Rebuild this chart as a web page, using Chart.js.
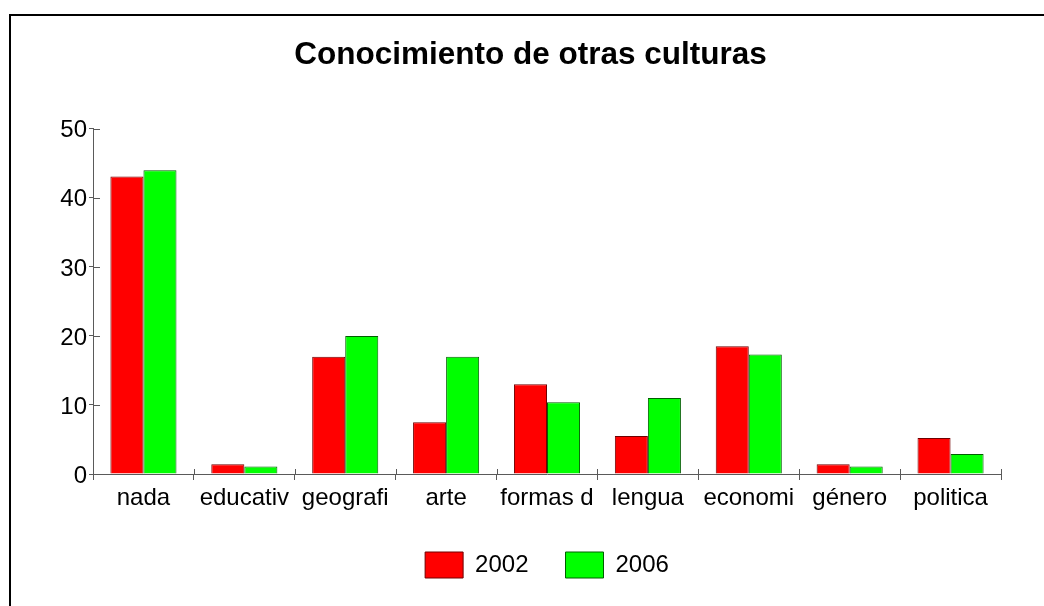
<!DOCTYPE html>
<html>
<head>
<meta charset="utf-8">
<script src="https://cdn.jsdelivr.net/npm/chart.js@4"></script>
<style>
  html, body { margin: 0; padding: 0; background: #ffffff; }
  canvas { display: block; }
</style>
</head>
<body>
<canvas id="c" width="1044" height="606"></canvas>
<script>
const categories = ['nada', 'educativ', 'geografi', 'arte', 'formas d', 'lengua', 'economi', 'género', 'politica'];
const values2002 = [43.1, 1.4, 17.0, 7.5, 13.0, 5.5, 18.5, 1.4, 5.2];
const values2006 = [44.0, 1.1, 20.0, 17.0, 10.4, 11.0, 17.3, 1.1, 2.9];
const seriesNames = ['2002', '2006'];
const yTicks = [0, 10, 20, 30, 40, 50];
const titleText = 'Conocimiento de otras culturas';

const FONT = "'Liberation Sans', Arial, Helvetica, sans-serif";
const AXIS_COLOR = '#5a5a5a';

const framePlugin = {
  id: 'frame',
  beforeDraw(chart) {
    const ctx = chart.ctx;
    ctx.save();
    ctx.fillStyle = '#ffffff';
    ctx.fillRect(0, 0, chart.width, chart.height);
    ctx.strokeStyle = '#000000';
    ctx.lineWidth = 2;
    ctx.strokeRect(10, 15, 1100, 700);
    ctx.restore();
  }
};

// inner halves of the tick marks (ticks cross the axes in the reference)
const innerTicks = {
  id: 'innerTicks',
  afterDatasetsDraw(chart) {
    const ctx = chart.ctx;
    const x = chart.scales.x, y = chart.scales.y;
    ctx.save();
    ctx.strokeStyle = AXIS_COLOR;
    ctx.lineWidth = 1;
    ctx.beginPath();
    yTicks.forEach(v => {
      const py = Math.round(y.getPixelForValue(v)) + 0.5;
      ctx.moveTo(y.right, py);
      ctx.lineTo(y.right + 7, py);
    });
    for (let i = 0; i <= categories.length; i++) {
      const px = Math.round(x.getPixelForValue(i - 0.5)) + 0.5;
      ctx.moveTo(px, x.top);
      ctx.lineTo(px, x.top - 5);
    }
    ctx.stroke();
    ctx.restore();
  }
};

new Chart(document.getElementById('c'), {
  type: 'bar',
  data: {
    labels: categories,
    datasets: [
      {
        label: seriesNames[0],
        data: values2002,
        backgroundColor: '#ff0000',
        borderColor: '#700000',
        borderWidth: 1
      },
      {
        label: seriesNames[1],
        data: values2006,
        backgroundColor: '#00ff00',
        borderColor: '#005f00',
        borderWidth: 1
      }
    ]
  },
  options: {
    responsive: false,
    animation: false,
    layout: { padding: { left: 60, right: 43, top: 0, bottom: 18 } },
    datasets: { bar: { categoryPercentage: 0.655, barPercentage: 1.0 } },
    plugins: {
      tooltip: { enabled: false },
      title: {
        display: true,
        text: titleText,
        color: '#000000',
        font: { family: FONT, size: 31.5, weight: 'bold' },
        padding: { top: 36, bottom: 55 }
      },
      legend: {
        display: true,
        position: 'bottom',
        fullSize: false,
        labels: {
          boxWidth: 38,
          boxHeight: 26,
          padding: 37,
          color: '#000000',
          font: { family: FONT, size: 24 }
        }
      }
    },
    scales: {
      x: {
        offset: true,
        grid: {
          display: true,
          offset: true,
          drawOnChartArea: false,
          drawTicks: true,
          tickLength: 6,
          color: AXIS_COLOR
        },
        border: { display: true, color: AXIS_COLOR, width: 1 },
        ticks: {
          color: '#000000',
          font: { family: FONT, size: 24 },
          padding: 4,
          maxRotation: 0,
          autoSkip: false
        },
        afterFit(scale) { scale.height = 41; }
      },
      y: {
        min: 0,
        max: 50,
        grid: {
          display: true,
          drawOnChartArea: false,
          drawTicks: true,
          tickLength: 4,
          color: AXIS_COLOR
        },
        border: { display: true, color: AXIS_COLOR, width: 1 },
        afterBuildTicks(scale) { scale.ticks = yTicks.map(v => ({ value: v })); },
        ticks: {
          color: '#000000',
          font: { family: FONT, size: 24 },
          padding: 2,
          labelOffset: 2
        },
        afterFit(scale) { scale.width = 33; }
      }
    }
  },
  plugins: [framePlugin, innerTicks]
});
</script>
</body>
</html>
